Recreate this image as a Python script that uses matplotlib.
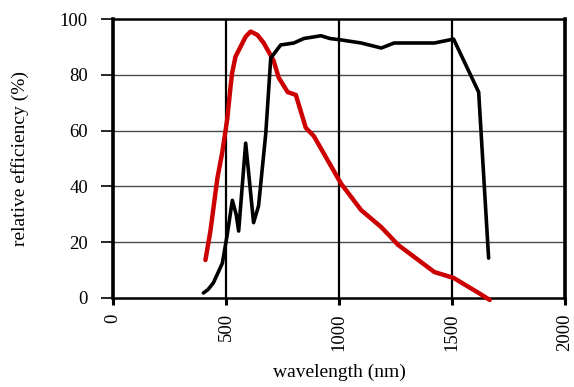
import matplotlib
matplotlib.use("Agg")
import matplotlib.pyplot as plt

# Black curve (wavelength nm, relative efficiency %)
black_wl = [400, 420, 444, 484, 506, 528, 545, 556, 587, 600, 622, 644, 676, 698, 742, 800,
            844, 920, 960, 1009, 1098, 1187, 1244, 1422, 1507, 1618, 1662]
black_eff = [1.8, 3.0, 5.4, 12.5, 23, 35, 30, 24, 55.5, 45, 27, 33, 59, 86, 90.7, 91.4,
             93, 94, 93, 92.5, 91.4, 89.6, 91.4, 91.4, 92.8, 73.8, 14.3]

# Red curve
red_wl = [409, 431, 462, 483, 505, 520, 527, 542, 564, 587, 609, 639, 667, 711, 733,
          773, 809, 853, 889, 1009, 1098, 1187, 1262, 1333, 1422, 1507, 1618, 1667]
red_eff = [13.6, 24, 43, 52, 63.8, 75.7, 80.6, 86.5, 90, 93.7, 95.5, 94.3, 91.4, 85, 79,
           73.8, 72.8, 61, 58, 41, 31.5, 25.4, 19, 14.7, 9.3, 7.2, 1.8, -0.7]

x_ticks = [0, 500, 1000, 1500, 2000]
y_ticks = [0, 20, 40, 60, 80, 100]

plt.rcParams['font.family'] = ['Liberation Serif', 'DejaVu Serif']

fig = plt.figure(figsize=(5.74, 3.87), dpi=100)
W, H = 574, 387
ax = fig.add_axes([113 / W, 1 - 298 / H, (565 - 113) / W, (298 - 19) / H])

ax.set_xlim(0, 2000)
ax.set_ylim(0, 100)

# grid
for y in y_ticks[1:-1]:
    ax.axhline(y, color='#4a4a4a', lw=1.0, zorder=1)
for x in x_ticks[1:-1]:
    ax.axvline(x, color='black', lw=1.6, zorder=1)

ax.plot(red_wl, red_eff, color='#cc0000', lw=3.2, zorder=3, clip_on=False,
        solid_joinstyle='round', solid_capstyle='round')
ax.plot(black_wl, black_eff, color='black', lw=2.6, zorder=4, clip_on=False,
        solid_joinstyle='round', solid_capstyle='round')

ax.set_xticks(x_ticks)
ax.set_yticks(y_ticks)
ax.set_xticklabels([str(v) for v in x_ticks], rotation=90, va='top')
ax.set_yticklabels([str(v) for v in y_ticks])

ax.tick_params(axis='y', direction='out', length=9, width=1.2, pad=9,
               labelsize=13.5)
ax.tick_params(axis='x', direction='out', length=5, width=2.2, pad=6,
               labelsize=13.5)

ax.spines['left'].set_linewidth(2.6)
ax.spines['right'].set_linewidth(2.6)
ax.spines['top'].set_linewidth(1.8)
ax.spines['bottom'].set_linewidth(1.8)

ax.set_xlabel('wavelength (nm)', fontsize=14, labelpad=9)
ax.set_ylabel('relative efficiency (%)', fontsize=14, labelpad=22)

fig.savefig('out.png', dpi=100)
